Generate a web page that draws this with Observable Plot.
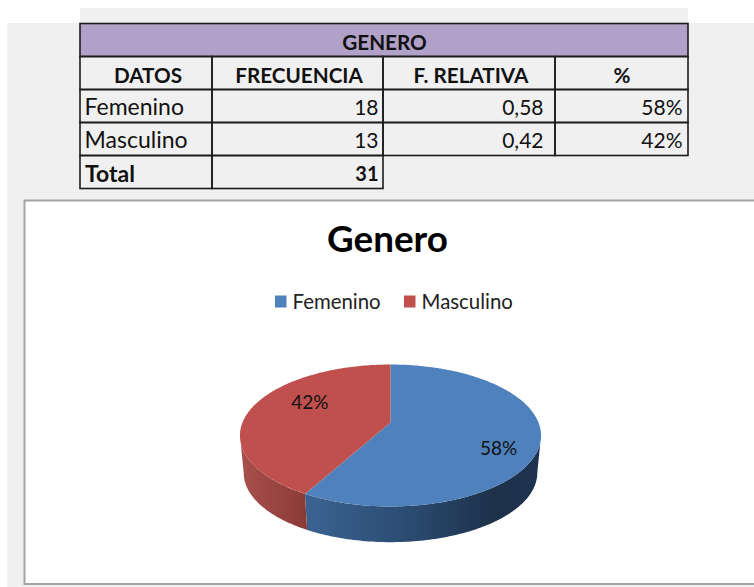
<!DOCTYPE html>
<html>
<head>
<meta charset="utf-8">
<style>html,body{margin:0;padding:0;background:#fff}svg{display:block}</style>
<script src="https://cdn.jsdelivr.net/npm/d3@7"></script>
<script src="https://cdn.jsdelivr.net/npm/@observablehq/plot@0.6"></script>
</head>
<body>
<script>
// ---- data ----
const tableTitle = "GENERO";
const chartTitle = "Genero";
const headers = ["DATOS", "FRECUENCIA", "F. RELATIVA", "%"];
const generos = ["Femenino", "Masculino"];
const frecuencias = [18, 13];
const relativas = ["0,58", "0,42"];
const porcentajes = ["58%", "42%"];
const totalLabel = "Total";
const totalValue = 31;

// ---- layout and style ----
const W = 754, H = 587;
const FONT = "Lato, Carlito, sans-serif";
const colEdges = [80, 212, 383, 555, 688];
const rowEdges = [23.5, 56.5, 89.5, 122.5, 155.5, 188.5];
const headerCenters = [147.5, 298.5, 470.5, 621.5];
const rightEdges = [null, 378, 543, 682];
const colors = ["#4f81bd", "#c0504d"];
const ink = "#111";

// perspective pie model
const pie = {cx: 390, cy: 422, a: 68.6, b: 148, k: 0.183, depth: 37.8, shrink: 0.975};
const rad = d => d * Math.PI / 180;
const project = (deg, r = 1, bottom = false) => {
  const u = r * Math.sin(rad(deg)), v = r * Math.cos(rad(deg));
  const den = 1 + pie.k * v, s = bottom ? pie.shrink : 1;
  return {x: pie.cx + s * pie.b * u / den,
          y: pie.cy + (bottom ? pie.depth : 0) - s * pie.a * v / den};
};
const total = d3.sum(frecuencias);
const seam = 360 * frecuencias[0] / total;
const sweep = (from, to, bottom = false) => {
  const n = Math.ceil(Math.abs(to - from)), out = [];
  for (let i = 0; i <= n; ++i) out.push(project(from + (to - from) * i / n, 1, bottom));
  return out;
};
// the wall's silhouette is where the projected rim is widest
const widest = Math.acos(-pie.k) * 180 / Math.PI;
const apex = project(0, 0);
const blueTop = [apex, ...sweep(0, seam)];
const redTop = [apex, ...sweep(seam, 360)];
const blueWall = [...sweep(widest, seam), ...sweep(seam, widest, true)];
const redWall = [...sweep(seam, 360 - widest), ...sweep(360 - widest, seam, true)];

const labelTurn = 13, labelRadius = [0.777, 0.64];
let start = 0;
const pieLabels = frecuencias.map((f, i) => {
  const span = 360 * f / total, p = project(start + span / 2 + labelTurn, labelRadius[i]);
  start += span;
  return {...p, text: porcentajes[i]};
});

// table cells
const cells = [];
cells.push({x1: colEdges[0], x2: colEdges[4], y1: rowEdges[0], y2: rowEdges[1], fill: "#b1a0c7"});
for (let r = 1; r <= 3; ++r) for (let c = 0; c < 4; ++c)
  cells.push({x1: colEdges[c], x2: colEdges[c + 1], y1: rowEdges[r], y2: rowEdges[r + 1], fill: "none"});
for (let c = 0; c < 2; ++c)
  cells.push({x1: colEdges[c], x2: colEdges[c + 1], y1: rowEdges[4], y2: rowEdges[5], fill: "none"});
const rowMid = i => (rowEdges[i] + rowEdges[i + 1]) / 2;

const headerText = headers.map((t, i) => ({x: headerCenters[i], y: rowMid(1) + 2.5, t}));
const leftText = generos.map((t, i) => ({x: 84, y: rowMid(2 + i) + 1.5, t}));
const rightText = generos.flatMap((_, i) => [
  {x: rightEdges[1], y: rowMid(2 + i) + 1.5, t: String(frecuencias[i])},
  {x: rightEdges[2], y: rowMid(2 + i) + 1.5, t: relativas[i]},
  {x: rightEdges[3], y: rowMid(2 + i) + 1.5, t: porcentajes[i]}
]);

const legend = generos.map((t, i) => ({t, color: colors[i], x1: [275, 404][i], x2: [286.5, 415.5][i], tx: [292, 421][i]}));

// gradients for the pie wall
const gradients = (index, {x}) => {
  const defs = d3.create("svg:defs");
  const add = (id, from, to, stops) => {
    const g = defs.append("linearGradient").attr("id", id).attr("gradientUnits", "userSpaceOnUse")
      .attr("x1", x(from)).attr("x2", x(to)).attr("y1", 0).attr("y2", 0);
    stops.forEach(([o, c]) => g.append("stop").attr("offset", o).attr("stop-color", c));
  };
  add("wallBlue", 305, 541, [[0, "#3b6392"], [0.45, "#2a4a70"], [0.8, "#1d3149"], [1, "#1e3450"]]);
  add("wallRed", 240, 306, [[0, "#a8504c"], [1, "#8b3a38"]]);
  return defs.node();
};

const chart = Plot.plot({
  width: W, height: H, margin: 0,
  x: {domain: [0, W], range: [0, W], axis: null},
  y: {domain: [0, H], range: [0, H], axis: null},
  style: {background: "#fff", fontFamily: FONT},
  marks: [
    gradients,
    // page backdrop
    Plot.rect([{x1: 80, x2: 688, y1: 8, y2: 23}, {x1: 7, x2: W, y1: 23, y2: 587}],
      {x1: "x1", x2: "x2", y1: "y1", y2: "y2", fill: "#f0f0f0"}),
    // chart frame
    Plot.rect([{x1: 24.5, x2: W + 5, y1: 200.5, y2: 584}],
      {x1: "x1", x2: "x2", y1: "y1", y2: "y2", fill: "#fff", stroke: "#a3a3a3", strokeWidth: 2}),
    // table grid
    Plot.rect(cells, {x1: "x1", x2: "x2", y1: "y1", y2: "y2", fill: "fill", stroke: "#1c1c1c", strokeWidth: 1.6}),
    // table text
    Plot.text([tableTitle], {x: () => 384, y: () => rowMid(0) + 2.5, text: d => d, fontSize: 20.7, fontWeight: 700, fill: ink}),
    Plot.text(headerText, {x: "x", y: "y", text: "t", fontSize: 20.7, fontWeight: 700, fill: ink}),
    Plot.text(leftText, {x: "x", y: "y", text: "t", textAnchor: "start", fontSize: 23, fill: ink}),
    Plot.text(rightText, {x: "x", y: "y", text: "t", textAnchor: "end", fontSize: 21, fill: ink}),
    Plot.text([totalLabel], {x: () => 84.5, y: () => rowMid(4) + 2, text: d => d, textAnchor: "start", fontSize: 23, fontWeight: 700, fill: ink}),
    Plot.text([totalValue], {x: () => rightEdges[1], y: () => rowMid(4) + 2, text: d => String(d), textAnchor: "end", fontSize: 20, fontWeight: 700, fill: ink}),
    // chart title
    Plot.text([chartTitle], {x: () => 387, y: () => 240, text: d => d, fontSize: 36.8, fontWeight: 700, fill: "#000"}),
    // legend
    Plot.rect(legend, {x1: "x1", x2: "x2", y1: () => 295.5, y2: () => 307.5, fill: "color"}),
    Plot.text(legend, {x: "tx", y: () => 302, text: "t", textAnchor: "start", fontSize: 20.4, fill: "#222"}),
    // pie walls
    Plot.line(blueWall, {x: "x", y: "y", fill: "url(#wallBlue)", stroke: "none"}),
    Plot.line(redWall, {x: "x", y: "y", fill: "url(#wallRed)", stroke: "none"}),
    // pie top
    Plot.line(blueTop, {x: "x", y: "y", fill: colors[0], stroke: "none"}),
    Plot.line(redTop, {x: "x", y: "y", fill: colors[1], stroke: "none"}),
    Plot.text(pieLabels, {x: "x", y: "y", dx: -1, text: "text", fontSize: 19, fill: "#111"})
  ]
});
document.body.append(chart);
</script>
</body>
</html>
